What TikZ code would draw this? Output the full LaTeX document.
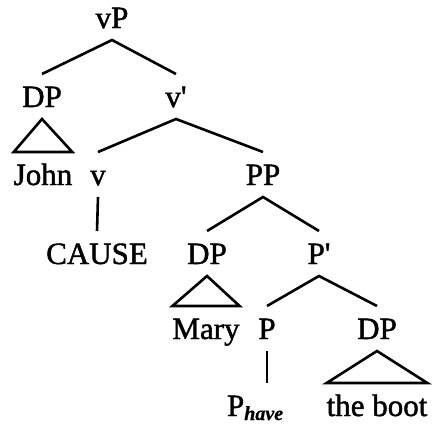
\documentclass[tikz,border=0pt]{standalone}
\usepackage{fontspec}
\setmainfont{Liberation Serif}[UprightFeatures={FakeBold=1.4},BoldItalicFeatures={FakeBold=0.8}]
\begin{document}
\begin{tikzpicture}[x=1pt,y=-1pt,
  lab/.style={anchor=base,inner sep=0pt,outer xsep=0pt,outer ysep=12pt,
    text height=21pt,text depth=0pt,font=\fontsize{31}{31}\selectfont},
  edge/.style={line width=2.6pt,line cap=butt,line join=miter}]
\useasboundingbox (0,0) rectangle (434,424);
\node[lab] (vP) at (112,28) {vP};
\node[lab] (DP1) at (42,107) {DP};
\node[lab] (vbar) at (176,107) {v\textquotesingle};
\node[lab] (John) at (43,185) {John};
\node[lab] (v) at (98,185) {v};
\node[lab] (PP) at (263,185) {PP};
\node[lab] (CAUSE) at (97,264) {CAUSE};
\node[lab] (DP2) at (207,264) {DP};
\node[lab] (Pbar) at (319,264) {P\textquotesingle};
\node[lab] (Mary) at (206,339) {Mary};
\node[lab] (P) at (267,339) {P};
\node[lab] (DP3) at (377,339) {DP};
\node[lab,anchor=base west] (Phave) at (227,416) {P\raisebox{-4pt}{\fontsize{20}{20}\selectfont\bfseries\itshape have}};
\node[lab] (boot) at (377,416) {the boot};
\draw[edge] (DP1.north) -- (vP.south) -- (vbar.north);
\draw[edge] (v.north) -- (vbar.south) -- (PP.north);
\draw[edge] (v.south) -- (CAUSE.north);
\draw[edge] (DP2.north) -- (PP.south) -- (Pbar.north);
\draw[edge] (P.north) -- (Pbar.south) -- (DP3.north);
\draw[edge] (P.south) -- (P.south |- Phave.north);
\draw[edge] (John.north west) -- (DP1.south) -- (John.north east) -- cycle;
\draw[edge] (Mary.north west) -- (DP2.south) -- (Mary.north east) -- cycle;
\draw[edge] (boot.north west) -- (DP3.south) -- (boot.north east) -- cycle;
\end{tikzpicture}
\end{document}
